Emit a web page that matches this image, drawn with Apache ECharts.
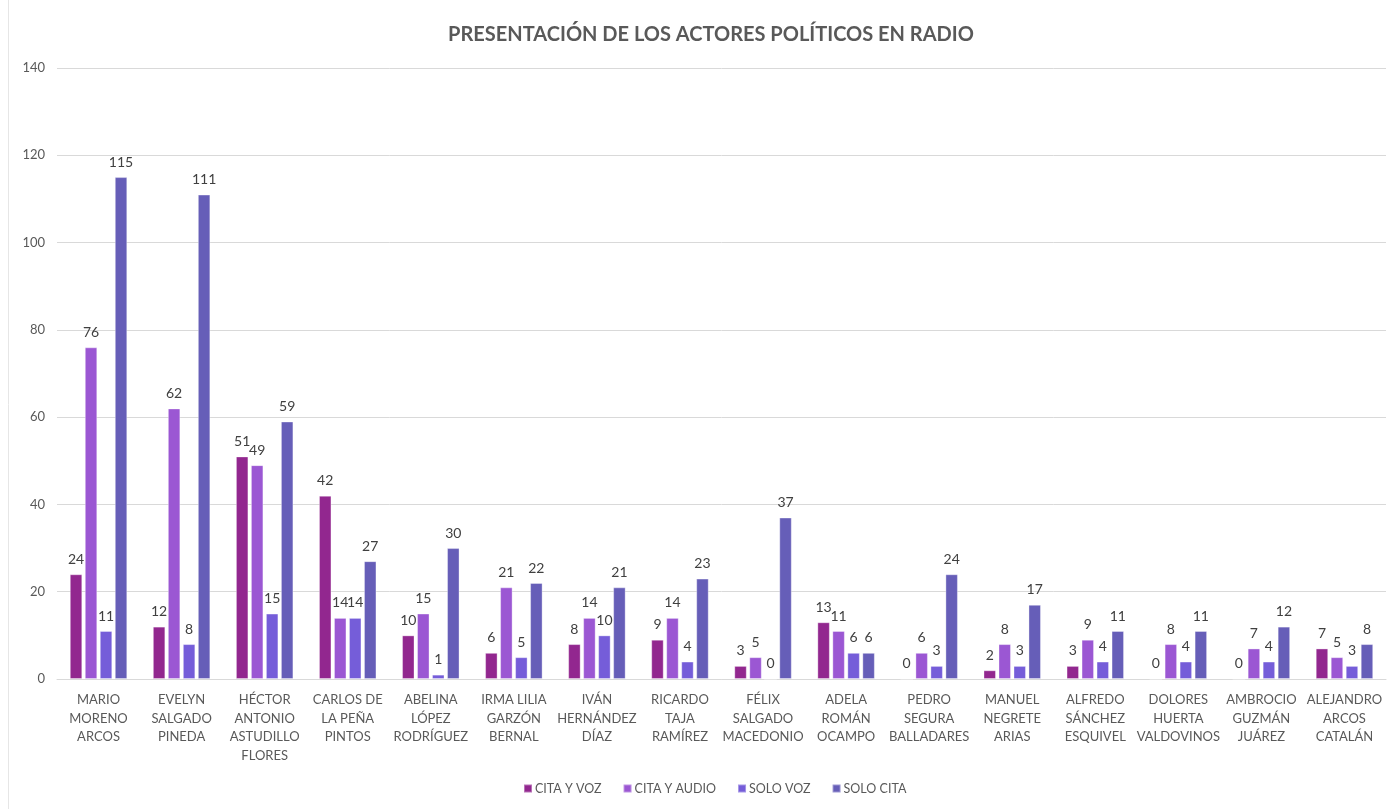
<!DOCTYPE html>
<html>
<head>
<meta charset="utf-8">
<script src="https://cdn.jsdelivr.net/npm/echarts@6/dist/echarts.min.js"></script>
<style>html,body{margin:0;padding:0;background:#fff}#c{width:1396px;height:809px}</style>
</head>
<body>
<div id="c"></div>
<script>
var categories = ["MARIO\nMORENO\nARCOS", "EVELYN\nSALGADO\nPINEDA", "HÉCTOR\nANTONIO\nASTUDILLO\nFLORES", "CARLOS DE\nLA PEÑA\nPINTOS", "ABELINA\nLÓPEZ\nRODRÍGUEZ", "IRMA LILIA\nGARZÓN\nBERNAL", "IVÁN\nHERNÁNDEZ\nDÍAZ", "RICARDO\nTAJA\nRAMÍREZ", "FÉLIX\nSALGADO\nMACEDONIO", "ADELA\nROMÁN\nOCAMPO", "PEDRO\nSEGURA\nBALLADARES", "MANUEL\nNEGRETE\nARIAS", "ALFREDO\nSÁNCHEZ\nESQUIVEL", "DOLORES\nHUERTA\nVALDOVINOS", "AMBROCIO\nGUZMÁN\nJUÁREZ", "ALEJANDRO\nARCOS\nCATALÁN"];
var citaYVoz   = [24, 12, 51, 42, 10, 6, 8, 9, 3, 13, 0, 2, 3, 0, 0, 7];
var citaYAudio = [76, 62, 49, 14, 15, 21, 14, 14, 5, 11, 6, 8, 9, 8, 7, 5];
var soloVoz    = [11, 8, 15, 14, 1, 5, 10, 4, 0, 6, 3, 3, 4, 4, 4, 3];
var soloCita   = [115, 111, 59, 27, 30, 22, 21, 23, 37, 6, 24, 17, 11, 11, 12, 8];
var seriesNames = ["CITA Y VOZ", "CITA Y AUDIO", "SOLO VOZ", "SOLO CITA"];
var colors = ["#92278F", "#9B57D3", "#755DD9", "#665EB8"];

var FONT = "Lato";
var chart = echarts.init(document.getElementById('c'));
var dataSets = [citaYVoz, citaYAudio, soloVoz, soloCita];
var series = dataSets.map(function (d, i) {
  return {
    name: seriesNames[i],
    type: 'bar',
    data: d,
    barWidth: 12.5,
    barGap: '20%',
    itemStyle: { color: colors[i], borderColor: 'rgba(255,255,255,0.35)', borderWidth: 1 },
    label: { show: true, position: 'top', distance: 8, color: '#404040', fontSize: 14, fontFamily: FONT }
  };
});
chart.setOption({
  animation: false,
  color: colors,
  title: {
    text: 'PRESENTACIÓN DE LOS ACTORES POLÍTICOS EN RADIO',
    left: 706, top: 20, textAlign: 'center',
    textStyle: { color: '#595959', fontSize: 20, fontWeight: 'bold', fontFamily: FONT }
  },
  legend: {
    bottom: 9, left: 518,
    itemWidth: 8, itemHeight: 8, itemGap: 21,
    icon: 'rect',
    textStyle: { color: '#595959', fontSize: 12.5, fontFamily: FONT, padding: [0, 0, 0, -2] },
    data: seriesNames
  },
  grid: { left: 57, right: 10, top: 68, bottom: 130, containLabel: false },
  xAxis: {
    type: 'category',
    data: categories,
    axisLine: { lineStyle: { color: '#d9d9d9' } },
    axisTick: { show: false },
    axisLabel: { color: '#595959', fontSize: 13, fontFamily: FONT, lineHeight: 18.5, margin: 12, interval: 0 }
  },
  yAxis: {
    type: 'value', min: 0, max: 140, interval: 20,
    axisLine: { show: false }, axisTick: { show: false },
    splitLine: { lineStyle: { color: '#d9d9d9' } },
    axisLabel: { color: '#595959', fontSize: 13, fontFamily: FONT, margin: 12 }
  },
  graphic: [{ type: 'line', shape: { x1: 8.5, y1: 0, x2: 8.5, y2: 809 }, style: { stroke: '#e6e6e6', lineWidth: 1 } }],
  series: series
});
</script>
</body>
</html>
